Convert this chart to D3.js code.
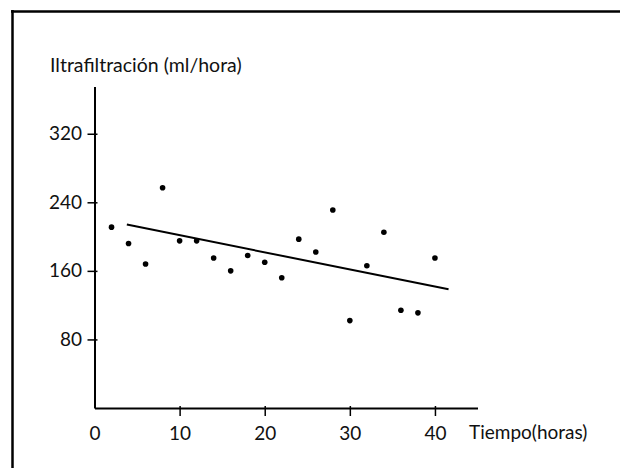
<!DOCTYPE html>
<html>
<head>
<meta charset="utf-8">
<script src="https://cdn.jsdelivr.net/npm/d3@7"></script>
<style>
  html, body { margin: 0; padding: 0; background: #fff; }
  svg text { font-family: Lato, "Open Sans", sans-serif; fill: #111; }
</style>
</head>
<body>
<svg id="chart" width="620" height="468"></svg>
<script>
// Data
const hours = [2, 4, 6, 8, 10, 12, 14, 16, 18, 20, 22, 24, 26, 28, 30, 32, 34, 36, 38, 40];
const ultrafiltration = [211, 192, 168, 257, 195, 195, 175, 160, 178, 170, 152, 197, 182, 231, 102, 166, 205, 114, 111, 175];
const trendX = [3.8, 41.6];
const trendY = [214, 138.5];
const xTicks = [0, 10, 20, 30, 40];
const yTicks = [80, 160, 240, 320];
const yLabel = "Iltrafiltración (ml/hora)";
const xLabel = "Tiempo(horas)";

const svg = d3.select("#chart");

// Frame (top and left border)
svg.append("line").attr("x1", 11).attr("x2", 620).attr("y1", 11.5).attr("y2", 11.5)
  .attr("stroke", "#000").attr("stroke-width", 2.5);
svg.append("line").attr("x1", 12.5).attr("x2", 12.5).attr("y1", 10).attr("y2", 468)
  .attr("stroke", "#000").attr("stroke-width", 2.5);

const x = d3.scaleLinear().domain([0, 45]).range([94.5, 477.5]);
const y = d3.scaleLinear().domain([0, 375]).range([408, 86.6]);

// X axis
const gx = svg.append("g").attr("transform", `translate(0,${y(0)})`)
  .call(d3.axisBottom(x).tickValues(xTicks).tickSize(8).tickSizeOuter(0).tickPadding(10));
gx.select(".domain").attr("stroke", "#000").attr("stroke-width", 2);
gx.selectAll(".tick line").attr("y1", -2).attr("y2", 8).attr("stroke-width", 1.5);
gx.selectAll(".tick").filter(d => d === 0).select("line").remove();
gx.selectAll(".tick text").attr("font-size", 19).attr("fill", "#111")
  .attr("font-family", "Lato, sans-serif").attr("y", 19);

// Y axis
const gy = svg.append("g").attr("transform", `translate(${x(0)},0)`)
  .call(d3.axisLeft(y).tickValues(yTicks).tickSize(7).tickSizeOuter(0).tickPadding(6));
gy.select(".domain").attr("stroke", "#000").attr("stroke-width", 2);
gy.selectAll(".tick line").attr("x1", 3).attr("x2", -7).attr("stroke-width", 1.5);
gy.selectAll(".tick text").attr("font-size", 19).attr("fill", "#111")
  .attr("font-family", "Lato, sans-serif").attr("x", -12.5);

// Axis titles
svg.append("text").attr("x", 50).attr("y", 72)
  .attr("font-size", 19.5).text(yLabel);
svg.append("text").attr("x", 469).attr("y", 439)
  .attr("font-size", 19).text(xLabel);

// Regression line
svg.append("path")
  .datum(trendX.map((d, i) => [d, trendY[i]]))
  .attr("d", d3.line().x(d => x(d[0])).y(d => y(d[1])))
  .attr("fill", "none").attr("stroke", "#000").attr("stroke-width", 2);

// Points
svg.append("g").selectAll("circle")
  .data(hours.map((h, i) => [h, ultrafiltration[i]]))
  .join("circle")
  .attr("cx", d => x(d[0])).attr("cy", d => y(d[1]))
  .attr("r", 2.8).attr("fill", "#000");
</script>
</body>
</html>
